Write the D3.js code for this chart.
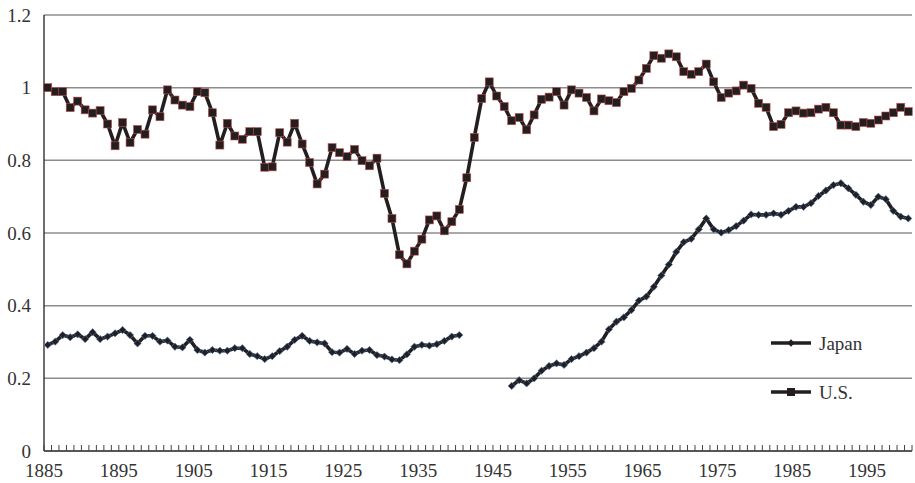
<!DOCTYPE html>
<html>
<head>
<meta charset="utf-8">
<script src="https://cdn.jsdelivr.net/npm/d3@7"></script>
<style>
  html, body { margin: 0; padding: 0; background: #fff; }
  svg { display: block; }
  text { font-family: "Liberation Serif", "DejaVu Serif", serif; fill: #333; }
</style>
</head>
<body>
<svg id="chart" width="915" height="483"></svg>
<script>
// Years on the category axis
const years = d3.range(1885, 2001);
const yearLabels = [1885, 1895, 1905, 1915, 1925, 1935, 1945, 1955, 1965, 1975, 1985, 1995];
const yTicks = [0, 0.2, 0.4, 0.6, 0.8, 1, 1.2];

// U.S. series, 1885-2000
const usValues = [
  1.000, 0.989, 0.989, 0.945, 0.963, 0.939, 0.930, 0.937, 0.900, 0.840,
  0.904, 0.849, 0.885, 0.872, 0.939, 0.920, 0.994, 0.966, 0.952, 0.948,
  0.989, 0.986, 0.931, 0.842, 0.902, 0.867, 0.858, 0.879, 0.879, 0.781,
  0.782, 0.876, 0.850, 0.902, 0.845, 0.794, 0.735, 0.762, 0.835, 0.821,
  0.810, 0.830, 0.799, 0.785, 0.806, 0.709, 0.640, 0.540, 0.515, 0.550,
  0.583, 0.636, 0.647, 0.606, 0.631, 0.665, 0.752, 0.863, 0.970, 1.016,
  0.977, 0.948, 0.909, 0.918, 0.884, 0.925, 0.968, 0.974, 0.989, 0.952,
  0.994, 0.985, 0.973, 0.936, 0.969, 0.964, 0.959, 0.989, 0.998, 1.021,
  1.053, 1.088, 1.081, 1.093, 1.085, 1.044, 1.037, 1.044, 1.065, 1.016,
  0.973, 0.985, 0.991, 1.007, 0.998, 0.957, 0.946, 0.893, 0.899, 0.931,
  0.936, 0.930, 0.931, 0.941, 0.946, 0.931, 0.897, 0.897, 0.893, 0.904,
  0.902, 0.911, 0.922, 0.931, 0.946, 0.934
];

// Japan, 1885-1940
const japanPrewar = [
  0.292, 0.301, 0.319, 0.313, 0.321, 0.308, 0.327, 0.308, 0.315, 0.324,
  0.333, 0.319, 0.296, 0.317, 0.317, 0.301, 0.304, 0.287, 0.285, 0.306,
  0.278, 0.271, 0.278, 0.276, 0.276, 0.283, 0.283, 0.267, 0.261, 0.253,
  0.261, 0.275, 0.287, 0.306, 0.317, 0.303, 0.299, 0.296, 0.272, 0.271,
  0.281, 0.267, 0.276, 0.278, 0.264, 0.260, 0.252, 0.250, 0.266, 0.287,
  0.292, 0.290, 0.294, 0.303, 0.315, 0.319
];

// Japan, 1947-2000
const japanPostwar = [
  0.179, 0.195, 0.186, 0.200, 0.221, 0.234, 0.241, 0.237, 0.253, 0.261,
  0.271, 0.283, 0.301, 0.335, 0.356, 0.368, 0.388, 0.414, 0.425, 0.452,
  0.483, 0.513, 0.548, 0.575, 0.584, 0.610, 0.640, 0.610, 0.601, 0.608,
  0.619, 0.634, 0.651, 0.650, 0.650, 0.654, 0.650, 0.661, 0.672, 0.672,
  0.682, 0.702, 0.717, 0.732, 0.737, 0.723, 0.705, 0.686, 0.677, 0.700,
  0.693, 0.661, 0.645, 0.640
];

const usData = years.map((yr, i) => ({ year: yr, v: usValues[i] }));
const japanData = years.map(yr => {
  let v = null;
  if (yr <= 1940) v = japanPrewar[yr - 1885];
  else if (yr >= 1947) v = japanPostwar[yr - 1947];
  return { year: yr, v };
});

const svg = d3.select("#chart");
const plotLeft = 44, plotRight = 912, plotTop = 15, plotBottom = 451;

const x = d3.scaleBand().domain(years).range([plotLeft, plotRight]).padding(0);
const cx = d => x(d.year) + x.bandwidth() / 2;
const y = d3.scaleLinear().domain([0, 1.2]).range([plotBottom, plotTop]);

const ink = "#231f20";

// Horizontal gridlines
svg.append("g").selectAll("line")
  .data(yTicks.filter(t => t > 0))
  .join("line")
  .attr("x1", plotLeft).attr("x2", plotRight)
  .attr("y1", d => y(d)).attr("y2", d => y(d))
  .attr("stroke", "#8c8c8c").attr("stroke-width", 1.5);

// Y axis labels
svg.append("g").selectAll("text")
  .data(yTicks)
  .join("text")
  .attr("x", 31)
  .attr("y", d => y(d))
  .attr("dy", "0.35em")
  .attr("text-anchor", "end")
  .attr("font-size", 19)
  .text(d => d3.format("")(d));

// Axis lines
svg.append("line")
  .attr("x1", plotLeft).attr("x2", plotLeft).attr("y1", plotTop).attr("y2", plotBottom)
  .attr("stroke", ink).attr("stroke-width", 1.3);
svg.append("line")
  .attr("x1", plotLeft).attr("x2", plotRight).attr("y1", plotBottom).attr("y2", plotBottom)
  .attr("stroke", ink).attr("stroke-width", 1.3);

// Category ticks at band edges
const tickPos = years.map(yr => x(yr)).concat([plotRight]);
svg.append("g").selectAll("line")
  .data(tickPos)
  .join("line")
  .attr("x1", d => d).attr("x2", d => d)
  .attr("y1", plotBottom).attr("y2", plotBottom - 6)
  .attr("stroke", "#444").attr("stroke-width", 1);

// X labels
svg.append("g").selectAll("text")
  .data(yearLabels)
  .join("text")
  .attr("x", d => x(d))
  .attr("y", 477)
  .attr("text-anchor", "middle")
  .attr("font-size", 19)
  .text(d => d);

// Lines
const line = d3.line()
  .defined(d => d.v !== null)
  .x(cx)
  .y(d => y(d.v));

svg.append("path").datum(usData)
  .attr("d", line)
  .attr("fill", "none").attr("stroke", ink)
  .attr("stroke-width", 3.6).attr("stroke-linejoin", "round");

svg.append("path").datum(japanData)
  .attr("d", line)
  .attr("fill", "none").attr("stroke", ink)
  .attr("stroke-width", 3.6).attr("stroke-linejoin", "round");

// Markers
const sq = 8;
svg.append("g").selectAll("rect")
  .data(usData)
  .join("rect")
  .attr("x", d => cx(d) - sq / 2)
  .attr("y", d => y(d.v) - sq / 2)
  .attr("width", sq).attr("height", sq)
  .attr("fill", ink)
  .attr("stroke", "#c0504d").attr("stroke-width", 0.6);

const diamond = d3.symbol().type(d3.symbolDiamond2).size(34);
svg.append("g").selectAll("path")
  .data(japanData.filter(d => d.v !== null))
  .join("path")
  .attr("d", diamond)
  .attr("transform", d => `translate(${cx(d)},${y(d.v)})`)
  .attr("fill", ink)
  .attr("stroke", "#4f81bd").attr("stroke-width", 0.6);

// Legend
const legend = svg.append("g");
const legendItems = [
  { name: "Japan", yPos: 343, marker: "diamond" },
  { name: "U.S.", yPos: 392, marker: "square" }
];
legendItems.forEach(it => {
  legend.append("line")
    .attr("x1", 771).attr("x2", 811)
    .attr("y1", it.yPos).attr("y2", it.yPos)
    .attr("stroke", ink).attr("stroke-width", 3.6);
  if (it.marker === "diamond") {
    legend.append("path")
      .attr("d", diamond)
      .attr("transform", `translate(791,${it.yPos})`)
      .attr("fill", ink);
  } else {
    legend.append("rect")
      .attr("x", 791 - sq / 2).attr("y", it.yPos - sq / 2)
      .attr("width", sq).attr("height", sq)
      .attr("fill", ink);
  }
  legend.append("text")
    .attr("x", 819).attr("y", it.yPos)
    .attr("dy", "0.35em")
    .attr("font-size", 19)
    .text(it.name);
});
</script>
</body>
</html>
